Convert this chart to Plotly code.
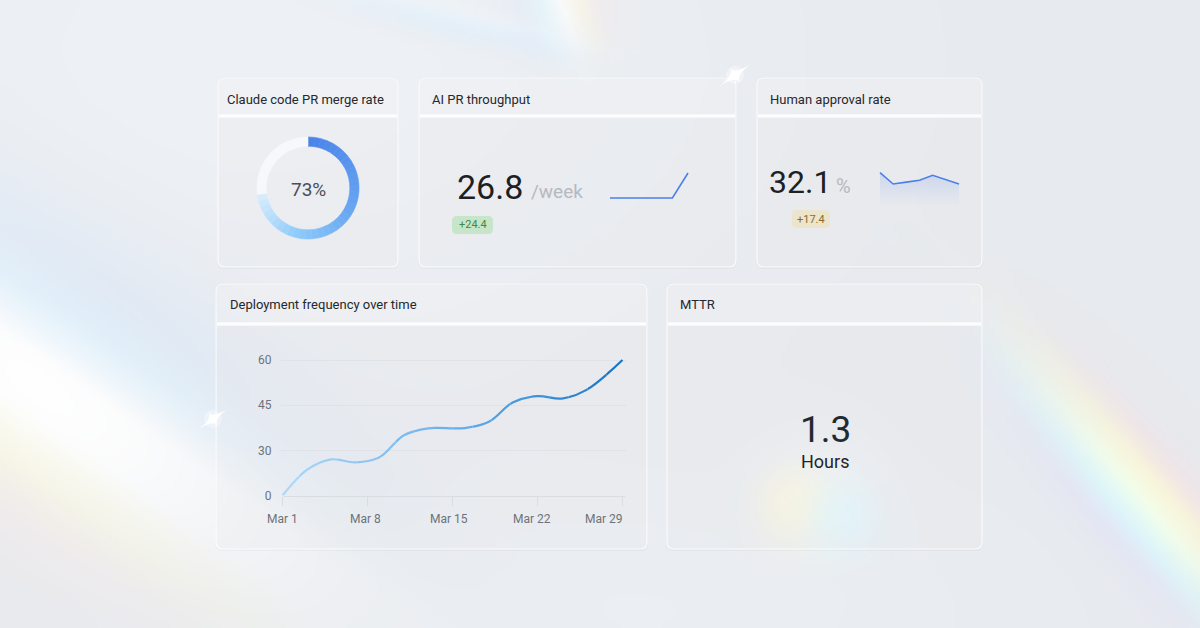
import base64, struct, zlib
import numpy as np
import pandas as pd
import plotly.graph_objects as go

W, H = 1200, 628

# ---------------- data ----------------
merge_rate = 73
throughput_value = "26.8"
throughput_unit = "/week"
throughput_delta = "+24.4"
throughput_weeks = [1, 2, 3, 4, 5, 6]
throughput_series = [2.4, 2.4, 2.4, 2.4, 2.4, 26.8]

approval_value = "32.1"
approval_unit = "%"
approval_delta = "+17.4"
approval_points = [1, 2, 3, 4, 5, 6, 7]
approval_series = [36.0, 30.0, 31.0, 32.0, 34.6, 32.3, 30.0]

deploy_dates = ["2024-03-01", "2024-03-03", "2024-03-05", "2024-03-07", "2024-03-09",
                "2024-03-11", "2024-03-13", "2024-03-16", "2024-03-18", "2024-03-20",
                "2024-03-22", "2024-03-24", "2024-03-26", "2024-03-29"]
deploy_values = [0, 17, 24, 22, 25.5, 35, 37.3, 37.4, 39.5, 46, 48, 47.2, 50, 60]
y_tick_values = [0, 30, 45, 60]
y_tick_labels = ["0", "30", "45", "60"]
x_tick_dates = ["2024-03-01", "2024-03-08", "2024-03-15", "2024-03-22", "2024-03-29"]
x_tick_labels = ["Mar 1", "Mar 8", "Mar 15", "Mar 22", "Mar 29"]

mttr_value = "1.3"
mttr_unit = "Hours"

titles = ["Claude code PR merge rate", "AI PR throughput", "Human approval rate",
          "Deployment frequency over time", "MTTR"]

FONT = "Roboto"


# ---------------- helpers ----------------
def PX(x):
    return x / W


def PY(y):
    return 1 - y / H


def lin_range(v0, p0, v1, p1, pa, pb):
    k = (v1 - v0) / (p1 - p0)
    return [v0 + (pa - p0) * k, v0 + (pb - p0) * k]


def rrect(x0, y0, x1, y1, r):
    def p(x, y):
        return f"{PX(x):.5f},{PY(y):.5f}"
    return (f"M{p(x0 + r, y0)} L{p(x1 - r, y0)} Q{p(x1, y0)} {p(x1, y0 + r)} "
            f"L{p(x1, y1 - r)} Q{p(x1, y1)} {p(x1 - r, y1)} L{p(x0 + r, y1)} "
            f"Q{p(x0, y1)} {p(x0, y1 - r)} L{p(x0, y0 + r)} Q{p(x0, y0)} {p(x0 + r, y0)} Z")


def rtop(x0, y0, x1, y1, r):
    def p(x, y):
        return f"{PX(x):.5f},{PY(y):.5f}"
    return (f"M{p(x0 + r, y0)} L{p(x1 - r, y0)} Q{p(x1, y0)} {p(x1, y0 + r)} "
            f"L{p(x1, y1)} L{p(x0, y1)} L{p(x0, y0 + r)} Q{p(x0, y0)} {p(x0 + r, y0)} Z")


def star(cx, cy, L1, L2, ang):
    a = np.deg2rad(ang)
    d1 = np.array([np.cos(a), -np.sin(a)])
    d2 = np.array([np.sin(a), np.cos(a)])
    tips = [np.array([cx, cy]) + d1 * L1, np.array([cx, cy]) + d2 * L2,
            np.array([cx, cy]) - d1 * L1, np.array([cx, cy]) - d2 * L2]
    c = f"{PX(cx):.5f},{PY(cy):.5f}"
    s = f"M{PX(tips[0][0]):.5f},{PY(tips[0][1]):.5f} "
    for t in tips[1:] + tips[:1]:
        s += f"Q{c} {PX(t[0]):.5f},{PY(t[1]):.5f} "
    return s + "Z"


def interp_colors(stops, n):
    pos = np.array([s[0] for s in stops])
    cols = np.array([s[1] for s in stops], dtype=float)
    out = []
    for i in range(n):
        u = i / max(n - 1, 1)
        c = [np.interp(u, pos, cols[:, k]) for k in range(3)]
        out.append("rgb(%d,%d,%d)" % tuple(int(round(v)) for v in c))
    return out


# ---------------- background image ----------------
S = 4
bw, bh = W // S, H // S + 1
X, Y = np.meshgrid((np.arange(bw) + 0.5) * S, (np.arange(bh) + 0.5) * S)
img = np.zeros((bh, bw, 3))
img[:] = np.array([231, 234, 238], float)
lift = 7 * np.exp(-(((X - 250) / 500) ** 2 + ((Y - 60) / 300) ** 2)) + \
    4 * np.exp(-(((X - 620) / 400) ** 2 + ((Y - 620) / 150) ** 2))
img += lift[..., None]


def band(img, p0, ang, w, tc, tsig, colors, strength, sharp=1.4):
    a = np.deg2rad(ang)
    dx, dy = np.cos(a), np.sin(a)
    rx, ry = X - p0[0], Y - p0[1]
    t = rx * dx + ry * dy
    s = -rx * dy + ry * dx
    env = np.exp(-((t - tc) / tsig) ** 2) * np.exp(-sharp * (s / w) ** 2)
    u = np.clip((s / w + 1) / 2, 0, 1)
    cols = np.array(colors, float)
    pos = np.linspace(0, 1, len(colors))
    col = np.stack([np.interp(u, pos, cols[:, k]) for k in range(3)], -1)
    al = (strength * env)[..., None]
    return img * (1 - al) + col * al


def blob(img, c, r, color, strength):
    env = np.exp(-(((X - c[0]) ** 2 + (Y - c[1]) ** 2) / r ** 2))
    al = (strength * env)[..., None]
    return img * (1 - al) + np.array(color, float) * al


img = band(img, (40, 390), 35, 130, 0, 290,
           [(205, 226, 252), (222, 242, 255), (255, 255, 255), (255, 255, 255),
            (255, 252, 228), (255, 236, 232)], 0.97, 1.2)
img = band(img, (1130, 490), 50, 48, 20, 170,
           [(255, 222, 222), (255, 249, 212), (242, 255, 236), (218, 249, 255), (222, 224, 255)],
           0.95, 1.1)
img = band(img, (460, 22), 13, 18, 0, 120,
           [(250, 252, 255), (226, 243, 255), (212, 234, 255)], 0.6)
img = band(img, (560, 0), 72, 42, 0, 55,
           [(255, 228, 228), (255, 250, 222), (255, 255, 255), (226, 248, 255), (218, 232, 255)],
           0.7, 1.2)
img = blob(img, (820, 495), 55, (250, 251, 253), 0.5)
img = blob(img, (795, 508), 36, (255, 249, 215), 0.75)
img = blob(img, (845, 520), 36, (220, 248, 255), 0.75)
img = np.clip(img, 0, 255).astype(np.uint8)


def png_b64(arr):
    h, w, _ = arr.shape
    raw = b"".join(b"\x00" + arr[i].tobytes() for i in range(h))

    def chunk(tag, data):
        return struct.pack(">I", len(data)) + tag + data + struct.pack(">I", zlib.crc32(tag + data) & 0xffffffff)
    png = (b"\x89PNG\r\n\x1a\n" + chunk(b"IHDR", struct.pack(">IIBBBBB", w, h, 8, 2, 0, 0, 0)) +
           chunk(b"IDAT", zlib.compress(raw, 9)) + chunk(b"IEND", b""))
    return "data:image/png;base64," + base64.b64encode(png).decode()


bg_src = png_b64(img)

# ---------------- figure ----------------
fig = go.Figure()
layout = dict(width=W, height=H, autosize=False,
              margin=dict(l=0, r=0, t=0, b=0, pad=0, autoexpand=False),
              paper_bgcolor="rgb(232,235,239)", plot_bgcolor="rgba(0,0,0,0)",
              showlegend=False, font=dict(family=FONT, color="#2a2d33"),
              images=[dict(source=bg_src, xref="paper", yref="paper", x=0, y=1, sizex=1, sizey=1,
                           sizing="stretch", xanchor="left", yanchor="top", layer="below")])

# cards
cards = [(218, 78, 398, 267, 116), (419, 78, 736, 267, 116), (757, 78, 982, 267, 116),
         (216, 284, 647, 549, 324), (667, 284, 982, 549, 324)]
shapes = []
for (x0, y0, x1, y1, yh) in cards:
    shapes.append(dict(type="path", path=rrect(x0 - 1, y0 - 1, x1 + 1, y1 + 2, 8), xref="paper", yref="paper",
                       fillcolor="rgba(60,70,90,0.035)", line=dict(width=0), layer="below"))
    shapes.append(dict(type="path", path=rrect(x0, y0, x1, y1, 7), xref="paper", yref="paper",
                       fillcolor="rgba(255,255,255,0.24)", line=dict(color="rgba(255,255,255,0.85)", width=1.2),
                       layer="below"))
    shapes.append(dict(type="path", path=rtop(x0 + 1, y0 + 1, x1 - 1, yh - 1, 6), xref="paper", yref="paper",
                       fillcolor="rgba(255,255,255,0.18)", line=dict(width=0), layer="below"))
    shapes.append(dict(type="line", xref="paper", yref="paper", x0=PX(x0 + 1), x1=PX(x1 - 1),
                       y0=PY(yh), y1=PY(yh), line=dict(color="rgba(255,255,255,0.55)", width=4), layer="below"))
    shapes.append(dict(type="line", xref="paper", yref="paper", x0=PX(x0 + 1), x1=PX(x1 - 1),
                       y0=PY(yh), y1=PY(yh), line=dict(color="rgba(255,255,255,0.95)", width=1.5), layer="below"))

# badges
shapes.append(dict(type="path", path=rrect(452, 216, 493, 234, 5), xref="paper", yref="paper",
                   fillcolor="rgba(190,228,190,0.8)", line=dict(width=0), layer="below"))
shapes.append(dict(type="path", path=rrect(792, 210, 830, 228, 5), xref="paper", yref="paper",
                   fillcolor="rgba(236,228,196,0.85)", line=dict(width=0), layer="below"))

# sparkles
for (cx, cy, L1, L2, ang) in [(735, 75, 22, 9, 35), (213, 419, 20, 8, 35)]:
    shapes.append(dict(type="circle", xref="paper", yref="paper", x0=PX(cx - 9), x1=PX(cx + 9),
                       y0=PY(cy + 9), y1=PY(cy - 9), fillcolor="rgba(255,255,255,0.35)", line=dict(width=0),
                       layer="above"))
    shapes.append(dict(type="path", path=star(cx, cy, L1, L2, ang), xref="paper", yref="paper",
                       fillcolor="rgba(255,255,255,0.95)", line=dict(width=0), layer="above"))

layout["shapes"] = shapes

# ---- deployment chart ----
px_per_day = (622.5 - 282.5) / 28.0
t0 = pd.Timestamp(deploy_dates[0])
y_pos = np.interp(deploy_values, y_tick_values, np.arange(len(y_tick_values)))
px_per_unit = (495.5 - 360.0) / 3.0
y_top_px = 348.0
ydom = [PY(495.5), PY(y_top_px)]
yrange = [0, (495.5 - y_top_px) / px_per_unit]


def day_to_str(d):
    return (t0 + pd.Timedelta(days=float(d))).strftime("%Y-%m-%d %H:%M:%S.%f")


main_l, main_r = 282.5, 624.5
layout["xaxis"] = dict(domain=[PX(main_l), PX(main_r)], type="date",
                       range=[day_to_str(0), day_to_str((main_r - 282.5) / px_per_day)],
                       tickvals=x_tick_dates, showticklabels=False, showgrid=False, zeroline=False,
                       showline=True, linecolor="#d9dce1", linewidth=1, ticks="outside", ticklen=9,
                       tickcolor="#d9dce1", tickwidth=1, anchor="y", fixedrange=True, automargin=False)
layout["yaxis"] = dict(domain=ydom, range=yrange, tickvals=list(range(len(y_tick_values))),
                       ticktext=y_tick_labels, showgrid=True, gridcolor="#dfe2e6", gridwidth=1,
                       zeroline=False, showline=False, ticks="", ticklabelstandoff=10,
                       tickfont=dict(size=12, color="#6e7278", family=FONT), anchor="x", fixedrange=True,
                       automargin=False)
fig.add_trace(go.Scatter(x=[deploy_dates[0]], y=[0], mode="markers", marker=dict(opacity=0),
                         hoverinfo="skip", xaxis="x", yaxis="y"))

N = 18
seg_l, seg_r = 280.5, 626.0
line_cols = interp_colors([(0, (172, 215, 247)), (0.5, (104, 176, 236)), (1, (24, 118, 200))], N)
for i in range(N):
    a = seg_l + i * (seg_r - seg_l) / N
    b = seg_l + (i + 1) * (seg_r - seg_l) / N
    ax_id = i + 2
    layout[f"xaxis{ax_id}"] = dict(domain=[PX(a), PX(b)], type="date",
                                   range=[day_to_str((a - 282.5) / px_per_day), day_to_str((b - 282.5) / px_per_day)],
                                   visible=False, showgrid=False, zeroline=False, anchor="y", fixedrange=True,
                                   automargin=False)
    fig.add_trace(go.Scatter(x=deploy_dates, y=y_pos, mode="lines",
                             line=dict(color=line_cols[i], width=2.2, shape="spline", smoothing=1.0, simplify=False),
                             hoverinfo="skip", xaxis=f"x{ax_id}", yaxis="y"))

# ---- sparkline 1 ----
k1 = N + 2
xa, xb = 608, 691
layout[f"xaxis{k1}"] = dict(domain=[PX(xa), PX(xb)], range=lin_range(1, 610, 6, 688, xa, xb),
                            visible=False, fixedrange=True, anchor=f"y{k1}", automargin=False)
layout[f"yaxis{k1}"] = dict(domain=[PY(202), PY(170)], range=lin_range(2.4, 198, 26.8, 173, 202, 170),
                            visible=False, fixedrange=True, anchor=f"x{k1}", automargin=False)
fig.add_trace(go.Scatter(x=throughput_weeks, y=throughput_series, mode="lines",
                         line=dict(color="#4a80ec", width=1.6), hoverinfo="skip",
                         xaxis=f"x{k1}", yaxis=f"y{k1}"))

# ---- sparkline 2 ----
k2 = N + 3
xa, xb = 879, 960.5
ybot, ytop = 206, 170
yr2 = lin_range(30, 184, 36, 172.7, ybot, ytop)
layout[f"xaxis{k2}"] = dict(domain=[PX(xa), PX(xb)], range=lin_range(1, 880, 7, 959, xa, xb),
                            visible=False, fixedrange=True, anchor=f"y{k2}", automargin=False)
layout[f"yaxis{k2}"] = dict(domain=[PY(ybot), PY(ytop)], range=yr2,
                            visible=False, fixedrange=True, anchor=f"x{k2}", automargin=False)
fig.add_trace(go.Scatter(x=approval_points, y=approval_series, mode="lines", fill="tozeroy",
                         fillgradient=dict(type="vertical", start=yr2[0], stop=max(approval_series),
                                           colorscale=[[0, "rgba(140,170,235,0)"], [1, "rgba(140,170,235,0.30)"]]),
                         line=dict(color="#4a80ec", width=1.6), hoverinfo="skip",
                         xaxis=f"x{k2}", yaxis=f"y{k2}"))

# ---- donut ----
NS = 36
donut_cols = interp_colors([(0, (74, 132, 233)), (0.45, (104, 166, 242)), (0.75, (143, 203, 250)),
                            (1, (214, 236, 251))], NS)
vals = [merge_rate / NS] * NS + [100 - merge_rate]
cols = donut_cols + ["rgb(247,248,250)"]
cx, cy, r = 308, 188, 51
fig.add_trace(go.Pie(values=vals, sort=False, direction="clockwise", rotation=0, hole=0.82,
                     marker=dict(colors=cols, line=dict(color=cols, width=0.6)),
                     textinfo="none", hoverinfo="skip", showlegend=False,
                     domain=dict(x=[PX(cx - r), PX(cx + r)], y=[PY(cy + r), PY(cy - r)])))

# ---------------- text ----------------
ann = []


def T(text, x, y, size, color, xanchor="left", family=FONT, xref="paper", xshift=0):
    ann.append(dict(text=text, x=PX(x) if xref == "paper" else x, y=PY(y), xref=xref, yref="paper",
                    showarrow=False, xanchor=xanchor, yanchor="middle", xshift=xshift,
                    font=dict(size=size, color=color, family=family)))


T(titles[0], 225, 99, 13, "#25282d")
T(titles[1], 430, 99, 13, "#25282d")
T(titles[2], 768, 100, 13, "#25282d")
T(titles[3], 228, 305, 13, "#25282d")
T(titles[4], 678, 305, 13, "#25282d")
T(f"{merge_rate}%", cx, 189, 19, "#4b4e54", "center")
T(throughput_value, 525, 187, 34, "#1d1f23", "right")
T(throughput_unit, 529, 191, 19, "#b6b9be")
T(throughput_delta, 472.5, 225, 11, "#3e8a46", "center")
T(approval_value, 833, 182, 32, "#1d1f23", "right")
T(approval_unit, 834, 186, 20, "#b6b9be")
T(approval_delta, 811, 219, 11, "#8a6c2c", "center")
T(mttr_value, 825, 429, 37, "#1f2b32", "center")
T(mttr_unit, 825, 461, 18, "#22252a", "center")
# x tick labels of the deployment chart
label_shift = [0, -2, -4, -6, 0]
for i, (d, lab) in enumerate(zip(x_tick_dates, x_tick_labels)):
    anchor = "right" if i == len(x_tick_dates) - 1 else "center"
    T(lab, d, 519, 12, "#6e7278", anchor, xref="x", xshift=label_shift[i] + (2 if anchor == "right" else 0))
layout["annotations"] = ann

fig.update_layout(**layout)
fig.write_html("out.html", config={"displayModeBar": False, "staticPlot": True},
               post_script="document.body.style.margin='0';document.body.style.overflow='hidden';")
